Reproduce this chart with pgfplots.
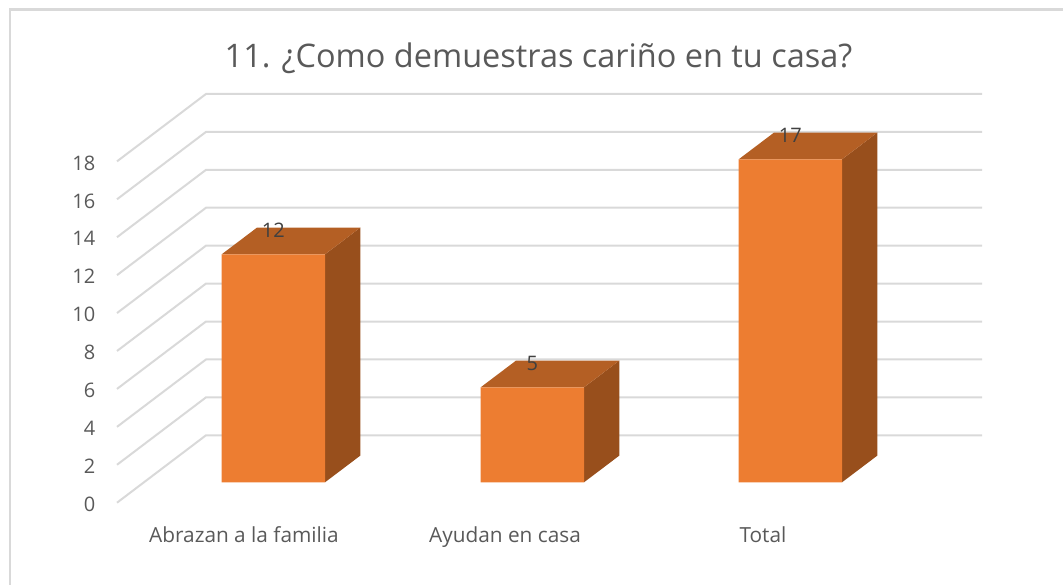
\documentclass[border=0pt]{standalone}
\usepackage{pgfplots}
\pgfplotsset{compat=1.18}
\usepackage{fontspec}
\setmainfont{Open Sans}
\definecolor{gridc}{HTML}{D9D9D9}
\definecolor{txt}{HTML}{595959}
\definecolor{lab}{HTML}{404040}
\definecolor{frontc}{HTML}{ED7D31}
\definecolor{topc}{HTML}{B45F24}
\definecolor{sidec}{HTML}{984F1C}
\begin{document}
\begin{tikzpicture}[x=1pt,y=1pt]
\path[use as bounding box] (0,0) rectangle (797.25,438.75);
% value axis: tick labels and wall grid (0 at the front floor edge)
\begin{axis}[at={(0,0)},anchor=south west,scale only axis,width=797.25pt,height=438.75pt,
  xmin=0,xmax=1063,ymin=-4.34,ymax=26.51,
  axis x line=none,axis y line*=left,
  y axis line style={draw=none},
  ytick={0,2,4,6,8,10,12,14,16,18},
  major tick length=0pt,
  clip=false,
  /pgf/number format/assume math mode=true,
  yticklabel style={font=\fontsize{15}{15}\selectfont,text=txt,anchor=east,xshift=75pt,yshift=-1.2pt}]
\addplot[gridc,line width=1.5pt] coordinates {(117,0)(206,3.555)(982,3.555)};
\addplot[gridc,line width=1.5pt] coordinates {(117,2)(206,5.555)(982,5.555)};
\addplot[gridc,line width=1.5pt] coordinates {(117,4)(206,7.555)(982,7.555)};
\addplot[gridc,line width=1.5pt] coordinates {(117,6)(206,9.555)(982,9.555)};
\addplot[gridc,line width=1.5pt] coordinates {(117,8)(206,11.555)(982,11.555)};
\addplot[gridc,line width=1.5pt] coordinates {(117,10)(206,13.555)(982,13.555)};
\addplot[gridc,line width=1.5pt] coordinates {(117,12)(206,15.555)(982,15.555)};
\addplot[gridc,line width=1.5pt] coordinates {(117,14)(206,17.555)(982,17.555)};
\addplot[gridc,line width=1.5pt] coordinates {(117,16)(206,19.555)(982,19.555)};
\addplot[gridc,line width=1.5pt] coordinates {(117,18)(206,21.555)(982,21.555)};
\end{axis}
% bars: x in picture units, y in chart values
\begin{axis}[at={(0,0)},anchor=south west,scale only axis,width=797.25pt,height=438.75pt,
  xmin=0,xmax=1063,ymin=-5.405,ymax=25.384,
  axis y line=none,axis x line*=bottom,
  x axis line style={draw=none},
  xtick={244,505,763},
  xticklabels={Abrazan a la familia,Ayudan en casa,Total},
  major tick length=0pt,
  clip=false,
  /pgf/number format/assume math mode=true,
  xticklabel style={font=\fontsize{15.6}{15.6}\selectfont,text=txt,anchor=base,yshift=32pt},
  title={11. ¿Como demuestras cariño en tu casa?},
  title style={font=\fontsize{24.35}{24.35}\selectfont,text=txt,at={(axis cs:538.5,21.9)},anchor=center}]
\addplot[fill=sidec,draw=none] coordinates {(325,0)(360.3,1.405)(360.3,13.405)(325,12)} --cycle;
\addplot[fill=topc,draw=none] coordinates {(221.7,12)(325,12)(360.3,13.405)(257,13.405)} --cycle;
\addplot[fill=sidec,draw=none] coordinates {(584,0)(619.3,1.405)(619.3,6.405)(584,5)} --cycle;
\addplot[fill=topc,draw=none] coordinates {(480.7,5)(584,5)(619.3,6.405)(516,6.405)} --cycle;
\addplot[fill=sidec,draw=none] coordinates {(842,0)(877.3,1.405)(877.3,18.405)(842,17)} --cycle;
\addplot[fill=topc,draw=none] coordinates {(738.7,17)(842,17)(877.3,18.405)(774,18.405)} --cycle;
\addplot[ybar,bar width=77.5pt,bar shift=0pt,fill=frontc,draw=none,
  nodes near coords,point meta=y,
  every node near coord/.style={anchor=center,yshift=18.2pt,font=\fontsize{15}{15}\selectfont,text=lab}]
  coordinates {(273.35,12)(532.35,5)(790.35,17)};
\end{axis}
\draw[gridc,line width=1.8pt] (7.5,0) -- (7.5,431.6) -- (797.25,431.6);
\end{tikzpicture}
\end{document}
